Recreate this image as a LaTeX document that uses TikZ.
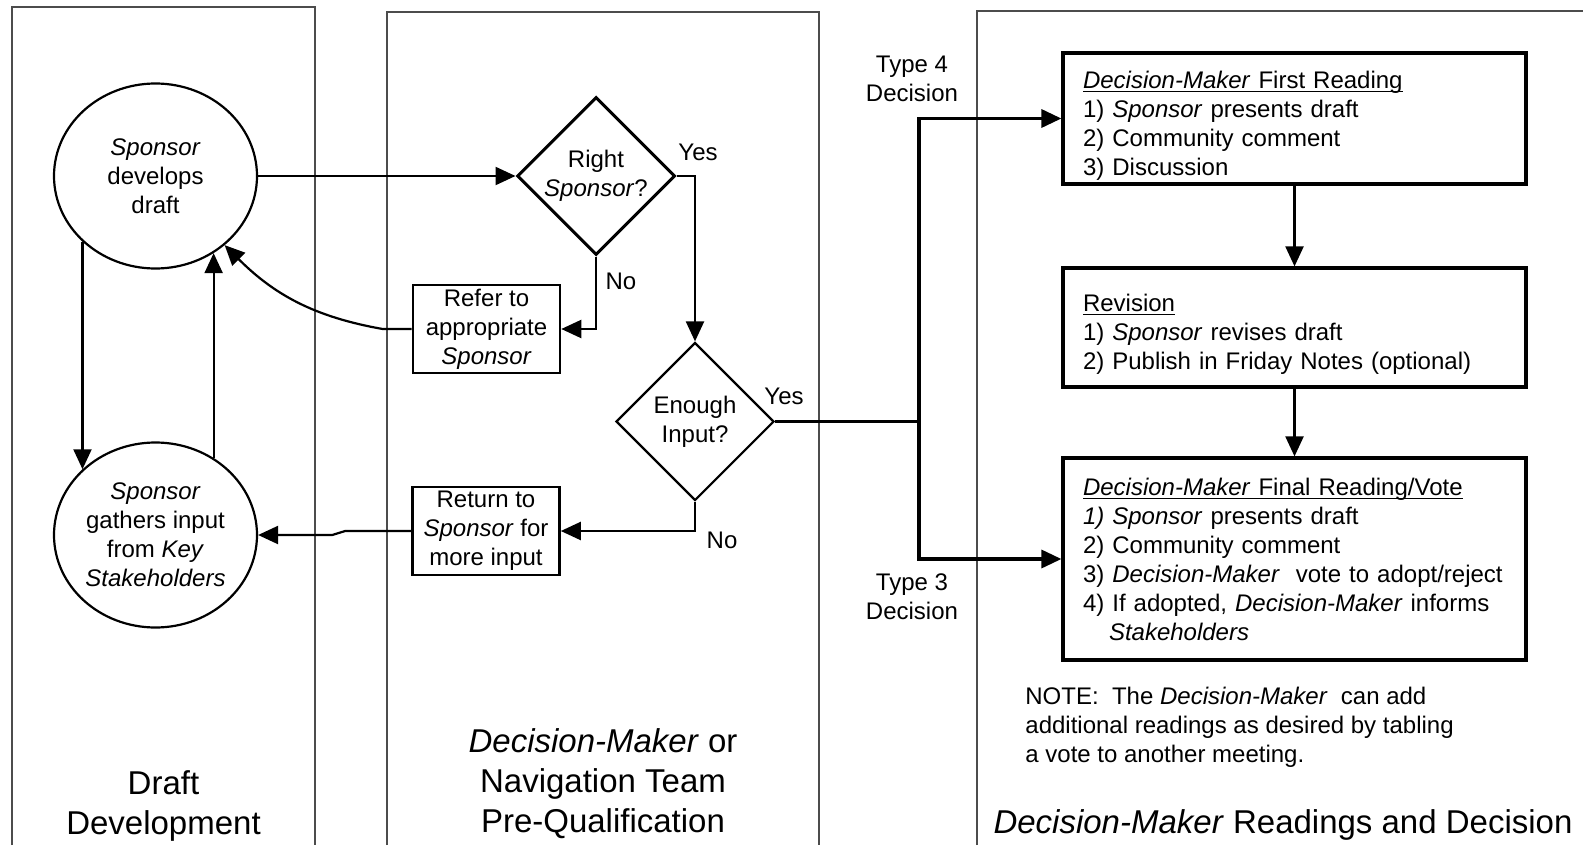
\documentclass[tikz,border=0pt]{standalone}
\usepackage{amsmath}
\usepackage{fontspec}
\setmainfont{Liberation Sans}
\usetikzlibrary{arrows.meta,positioning,shapes.geometric}
\newcommand{\undl}[1]{\underline{\smash[b]{#1}}}

\begin{document}
\begin{tikzpicture}[
  x=0.5pt, y=0.5pt,
  every node/.style={align=center, font=\fontsize{12}{14.5}\selectfont},
  lane/.style={draw=black!70, line width=0.8pt},
  bubble/.style={draw, ellipse, line width=1.1pt, minimum width=101.5pt, minimum height=92.5pt, inner sep=0pt},
  decide/.style={draw, diamond, minimum width=79pt, minimum height=79pt, inner sep=0pt},
  box/.style={draw, line width=1.3pt, minimum width=73.5pt, minimum height=44pt, inner sep=0pt},
  bigbox/.style={draw, line width=1.6pt, text width=211.5pt, inner xsep=10pt, inner ysep=0pt, align=left},
  arrow/.style={-{Triangle[length=10pt,width=9pt]}, line width=1.1pt},
  heavy/.style={arrow, line width=1.7pt},
  yesno/.style={inner sep=0pt},
  lanetitle/.style={font=\fontsize{16.5}{20}\selectfont, inner sep=0pt}
]
  \path[use as bounding box, fill=white] (0,0) rectangle (1583,-845);

  % Swim lanes
  \draw[lane] (12,-845) |- (315,-7) -- (315,-845);
  \draw[lane] (387,-845) |- (819,-12) -- (819,-845);
  \draw[lane] (977,-845) |- (1583,-11);

  % Draft development
  \node[bubble] (dev) at (155.5,-176) {\textit{Sponsor}\\develops\\draft};
  \node[bubble] (gather) at (155.5,-535) {\textit{Sponsor}\\gathers input\\from \textit{Key}\\\textit{Stakeholders}};

  % Pre-qualification
  \node[decide, line width=1.5pt] (rightsp) at (596,-176) {Right\\\textit{Sponsor}?};
  \node[decide, line width=1.1pt] (enough) at (695,-421.5) {Enough\\Input?};
  \node[box] (refer) at (486.5,-329) {Refer to\\appropriate\\\textit{Sponsor}};
  \node[box] (back) at (486,-531) {Return to\\\textit{Sponsor} for\\more input};

  \node[yesno] (yes1) at (698,-152) {Yes};
  \node[yesno] (no1) at (621,-281) {No};
  \node[yesno] (yes2) at (784,-396) {Yes};
  \node[yesno] (no2) at (722,-540) {No};

  % Readings and decision
  \node[bigbox, minimum height=65.5pt] (first) at (1294.5,-118.5)
    {\rule{0pt}{15.5pt}\undl{\textit{Decision-Maker} First Reading}\\1) \textit{Sponsor} presents draft\\2) Community comment\\3) Discussion};
  \node[bigbox, minimum height=59.5pt, below=40.4pt of first] (revise)
    {\rule{0pt}{15.5pt}\undl{Revision}\\1) \textit{Sponsor} revises draft\\2) Publish in Friday Notes (optional)};
  \node[bigbox, minimum height=101pt, below=33.9pt of revise] (final)
    {\undl{\textit{Decision-Maker} Final Reading/Vote}\\\textit{1) Sponsor} presents draft\\2) Community comment\\3) \textit{Decision-Maker}\ \ vote to adopt/reject\\4) If adopted, \textit{Decision-Maker} informs\\\hspace*{13pt}\textit{Stakeholders}};

  \node[yesno] (type4) at (912,-79) {Type 4\\Decision};
  \node[yesno] (type3) at (912,-597) {Type 3\\Decision};
  \node[anchor=west, align=left, inner sep=0pt] (note) at (1025,-727.5)
    {NOTE:\ \ The \textit{Decision-Maker}\ \ can add\\additional readings as desired by tabling\\a vote to another meeting.};

  % Lane titles
  \node[lanetitle] (t1) at (163.5,-806) {Draft\\Development};
  \node[lanetitle] (t2) at (603,-784) {\textit{Decision-Maker} or\\Navigation Team\\Pre-Qualification};
  \node[lanetitle] (t3) at (1283,-825) {\textit{Decision-Maker} Readings and Decision};

  % Connectors
  \coordinate (split) at (919,-421.5);
  \draw[arrow] (dev.east) -- (rightsp.west);
  \draw[arrow] (dev.222) -- (dev.222 |- gather.138);
  \draw[arrow] (gather.53) -- (gather.53 |- dev.-53);
  \draw[arrow] (rightsp.east) -| (enough.north);
  \draw[arrow] (rightsp.south) |- (refer.east);
  \draw[arrow] (enough.south) |- (back.east);
  \draw[arrow] (refer.west) -- ++(-29,0) to[out=170,in=-45] (dev.-45);
  \draw[arrow] (back.west) -- ++(-66,0) -- ++(-13,-4) -- (gather.east);
  \draw[line width=1.1pt] (enough.east) -- (split);
  \draw[heavy] (split) |- (first.west);
  \draw[heavy] (split) |- (final.west);
  \draw[arrow] (first.south) -- (revise.north);
  \draw[arrow] (revise.south) -- (final.north);
\end{tikzpicture}
\end{document}
